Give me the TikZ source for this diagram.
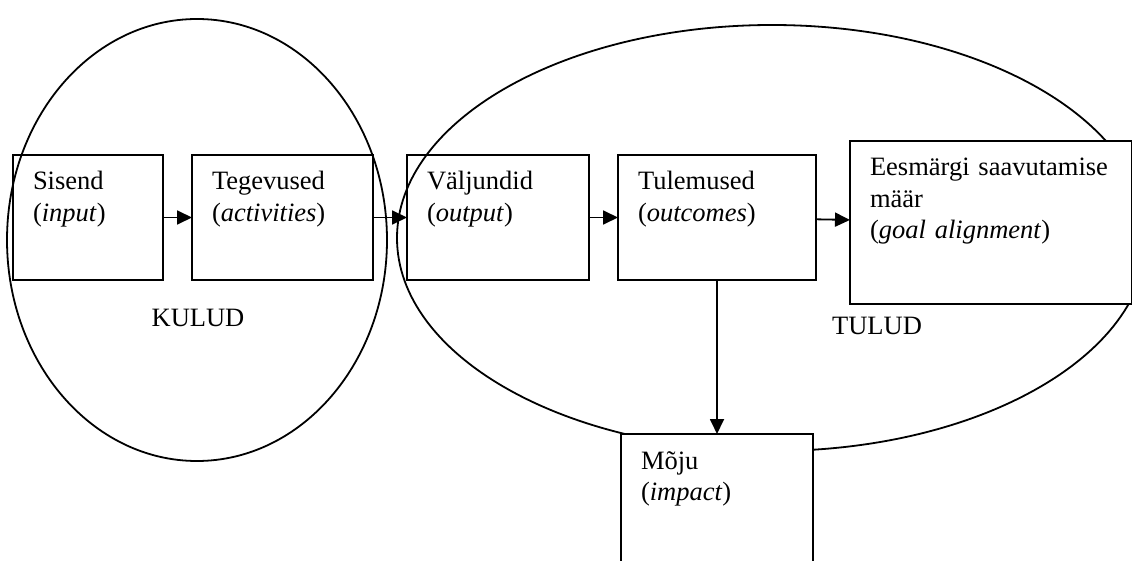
\documentclass[tikz,border=0pt]{standalone}
\usepackage{fontspec}
\setmainfont{Liberation Serif}
\usetikzlibrary{arrows.meta, positioning}

\begin{document}
\begin{tikzpicture}[
  x=1pt, y=-1pt,
  stage/.style={rectangle, draw, line width=2pt, fill=white,
    inner sep=0pt, inner xsep=20pt, outer sep=0pt, align=left,
    text height=35pt, text depth=90pt,
    font=\fontsize{26.5}{31.5}\selectfont},
  oval/.style={draw, line width=1.8pt},
  tag/.style={font=\fontsize{26.5}{31.5}\selectfont},
  arrow/.style={-{Triangle[length=15pt, width=14pt]}, line width=1.8pt}
]
  \path[use as bounding box, clip] (0,0) rectangle (1132,561);

  \node[stage, text width=110pt] (sisend) at (88,217.5) {Sisend\\(\textit{input})};
  \node[stage, text width=141pt, right=29pt of sisend] (tegevused) {Tegevused\\(\textit{activities})};
  \node[stage, text width=142pt, right=34pt of tegevused] (valjundid) {Väljundid\\(\textit{output})};
  \node[stage, text width=158pt, right=29pt of valjundid] (tulemused) {Tulemused\\(\textit{outcomes})};

  \draw[oval] (197,240) ellipse [x radius=190, y radius=221];
  \draw[oval] (772,238) ellipse [x radius=375, y radius=213];

  \node[stage, text width=242pt, text depth=128pt, right=34pt of tulemused, yshift=-5pt] (eesmark)
    {Eesmärgi saavutamise\\määr\\(\textit{goal alignment})};
  \node[stage, text width=152pt, text depth=115pt, below=154pt of tulemused] (moju) {Mõju\\(\textit{impact})};

  \node[tag] (kulud) at (198,318) {KULUD};
  \node[tag] (tulud) at (877,326) {TULUD};

  \draw[arrow] (sisend) -- (tegevused);
  \draw[arrow] (tegevused) -- (valjundid);
  \draw[arrow] (valjundid) -- (tulemused);
  \draw[arrow] (tulemused) -- (eesmark);
  \draw[arrow] (tulemused) -- (moju);
\end{tikzpicture}
\end{document}
